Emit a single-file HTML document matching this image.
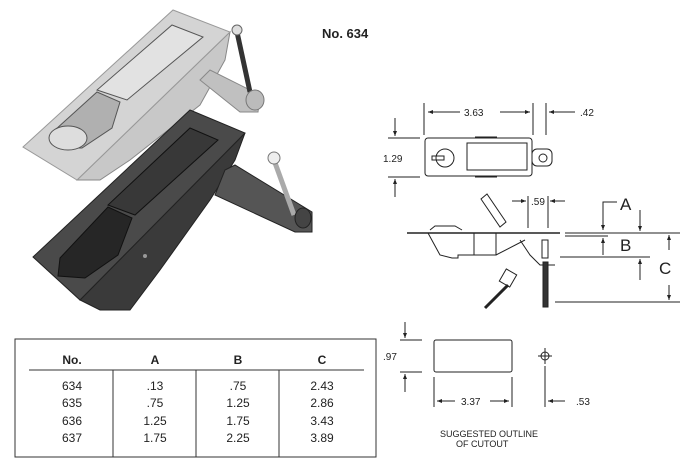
<!DOCTYPE html>
<html><head><meta charset="utf-8"><style>
html,body{margin:0;padding:0;background:#fff}
svg{display:block}
text{font-family:"Liberation Sans",sans-serif;fill:#222}
</style></head><body>
<svg width="690" height="472" viewBox="0 0 690 472" xmlns="http://www.w3.org/2000/svg">
<defs>
<marker id="a" viewBox="0 0 10 10" refX="10" refY="5" markerWidth="7" markerHeight="5" orient="auto-start-reverse"><path d="M0,1 L10,5 L0,9z" fill="#222"/></marker>
</defs>
<!-- silver latch -->
<g>
<polygon points="77,180 230,32 225,60 200,105 130,160 100,180" fill="#c8c8c8" stroke="#888"/>
<polygon points="23,147 173,10 230,32 77,180" fill="#d4d4d4" stroke="#999"/>
<polygon points="172,25 203,37 127,100 97,90" fill="#e2e2e2" stroke="#555"/>
<polygon points="97,92 120,102 112,128 82,148 60,148 55,130" fill="#b0b0b0" stroke="#555"/>
<ellipse cx="68" cy="138" rx="19" ry="12" fill="#ddd" stroke="#555"/>
<polygon points="200,80 210,70 260,95 258,112 240,112" fill="#c0c0c0" stroke="#888"/>
<line x1="237" y1="32" x2="250" y2="92" stroke="#333" stroke-width="5"/>
<circle cx="237" cy="30" r="5" fill="#ddd" stroke="#666"/>
<ellipse cx="255" cy="100" rx="9" ry="10" fill="#bbb" stroke="#777"/>
</g>
<!-- black latch -->
<g>
<polygon points="80,300 245,133 235,160 210,200 160,270 130,310 100,310" fill="#3a3a3a" stroke="#222"/>
<polygon points="33,257 190,110 245,133 80,300" fill="#4a4a4a" stroke="#222"/>
<polygon points="190,128 218,140 135,215 108,205" fill="#383838" stroke="#111"/>
<polygon points="108,207 132,218 118,255 85,278 58,276 60,258" fill="#262626" stroke="#111"/>
<polygon points="225,170 235,165 312,212 312,232 295,232 215,195" fill="#555" stroke="#222"/>
<line x1="274" y1="160" x2="294" y2="215" stroke="#aaa" stroke-width="5"/>
<circle cx="274" cy="158" r="6" fill="#eee" stroke="#777"/>
<ellipse cx="303" cy="218" rx="8" ry="10" fill="#444" stroke="#222"/>
<circle cx="145" cy="256" r="2" fill="#999"/>
</g>
<text x="322" y="38" font-size="13" font-weight="bold">No. 634</text>

<!-- drawing -->
<g stroke="#222" stroke-width="1" fill="none">
<line x1="424" y1="103" x2="424" y2="135"/><line x1="533" y1="103" x2="533" y2="135"/><line x1="546" y1="103" x2="546" y2="135"/>
<line x1="460" y1="112" x2="428" y2="112" marker-end="url(#a)"/><line x1="500" y1="112" x2="530" y2="112" marker-end="url(#a)"/>
<line x1="575" y1="112" x2="549" y2="112" marker-end="url(#a)"/>
<line x1="388" y1="138" x2="420" y2="138"/><line x1="388" y1="177" x2="420" y2="177"/>
<line x1="395" y1="118" x2="395" y2="136" marker-end="url(#a)"/><line x1="395" y1="197" x2="395" y2="179" marker-end="url(#a)"/>
<rect x="425" y="138" width="107" height="38" rx="3"/>
<line x1="475" y1="137" x2="497" y2="137"/><line x1="475" y1="177" x2="497" y2="177"/>
<rect x="467" y="143" width="60" height="27"/>
<circle cx="445" cy="158" r="9"/>
<rect x="432" y="156" width="12" height="4"/>
<rect x="532" y="149" width="20" height="17" rx="5"/>
<circle cx="543" cy="158" r="4"/>
<!-- side view -->
<line x1="407" y1="233" x2="560" y2="233" stroke-width="1.5"/>
<line x1="565" y1="233" x2="680" y2="233"/>
<line x1="565" y1="236" x2="608" y2="236"/>
<line x1="560" y1="257" x2="650" y2="257"/>
<line x1="555" y1="302" x2="680" y2="302"/>
<polyline points="430,230 435,226 455,226 462,230"/>
<polyline points="428,233 440,255 452,258 458,258 458,255 475,255"/>
<rect x="474" y="233" width="22" height="22"/>
<line x1="496" y1="255" x2="525" y2="240"/>
<polyline points="520,240 530,255 540,265 555,265"/>
<rect x="542" y="240" width="6" height="18"/>
<rect x="543" y="262" width="5" height="45" fill="#333"/>
<line x1="508" y1="285" x2="485" y2="308" stroke-width="3"/>
<rect x="502" y="271" width="12" height="14" transform="rotate(30 508 278)"/>
<polygon points="481,199 487,194 506,222 500,227" />
<line x1="528" y1="196" x2="528" y2="228"/><line x1="548" y1="196" x2="548" y2="228"/>
<line x1="512" y1="201" x2="526" y2="201" marker-end="url(#a)"/><line x1="565" y1="201" x2="550" y2="201" marker-end="url(#a)"/>
<polyline points="617,202 603,202 603,230" marker-end="url(#a)"/>
<line x1="603" y1="255" x2="603" y2="238" marker-end="url(#a)"/>
<line x1="640" y1="210" x2="640" y2="231" marker-end="url(#a)"/>
<line x1="640" y1="280" x2="640" y2="259" marker-end="url(#a)"/>
<line x1="669" y1="250" x2="669" y2="235" marker-end="url(#a)"/>
<line x1="669" y1="285" x2="669" y2="300" marker-end="url(#a)"/>
<!-- cutout -->
<line x1="400" y1="340" x2="422" y2="340"/><line x1="400" y1="372" x2="422" y2="372"/>
<line x1="405" y1="322" x2="405" y2="338" marker-end="url(#a)"/><line x1="405" y1="392" x2="405" y2="374" marker-end="url(#a)"/>
<rect x="434" y="340" width="78" height="32" rx="2"/>
<circle cx="545" cy="356" r="4"/><line x1="545" y1="348" x2="545" y2="364"/><line x1="538" y1="356" x2="552" y2="356"/>
<line x1="434" y1="377" x2="434" y2="407"/><line x1="512" y1="377" x2="512" y2="407"/><line x1="545" y1="366" x2="545" y2="407"/>
<line x1="455" y1="401" x2="437" y2="401" marker-end="url(#a)"/><line x1="490" y1="401" x2="509" y2="401" marker-end="url(#a)"/>
<line x1="565" y1="401" x2="548" y2="401" marker-end="url(#a)"/>
</g>
<g font-size="10">
<text x="464" y="116">3.63</text><text x="580" y="116">.42</text>
<text x="383" y="162">1.29</text>
<text x="531" y="205">.59</text>
<text x="461" y="405">3.37</text><text x="576" y="405">.53</text>
<text x="383" y="360">.97</text>
</g>
<g font-size="17"><text x="620" y="210">A</text><text x="620" y="251">B</text><text x="659" y="274">C</text></g>
<text x="440" y="437" font-size="9" font-family="Liberation Mono">SUGGESTED OUTLINE</text>
<text x="456" y="447" font-size="9" font-family="Liberation Mono">OF CUTOUT</text>
<!-- table -->
<g stroke="#333" fill="none">
<rect x="15" y="339" width="361" height="118"/>
<line x1="29" y1="370" x2="364" y2="370"/>
<line x1="113" y1="370" x2="113" y2="457"/><line x1="196" y1="370" x2="196" y2="457"/><line x1="279" y1="370" x2="279" y2="457"/>
</g>
<g font-size="12" font-weight="bold" text-anchor="middle">
<text x="72" y="364">No.</text><text x="155" y="364">A</text><text x="238" y="364">B</text><text x="322" y="364">C</text>
</g>
<g font-size="12" text-anchor="middle" fill="#333">
<text x="72" y="390">634</text><text x="155" y="390">.13</text><text x="238" y="390">.75</text><text x="322" y="390">2.43</text>
<text x="72" y="407">635</text><text x="155" y="407">.75</text><text x="238" y="407">1.25</text><text x="322" y="407">2.86</text>
<text x="72" y="425">636</text><text x="155" y="425">1.25</text><text x="238" y="425">1.75</text><text x="322" y="425">3.43</text>
<text x="72" y="442">637</text><text x="155" y="442">1.75</text><text x="238" y="442">2.25</text><text x="322" y="442">3.89</text>
</g>
</svg>
</body></html>
